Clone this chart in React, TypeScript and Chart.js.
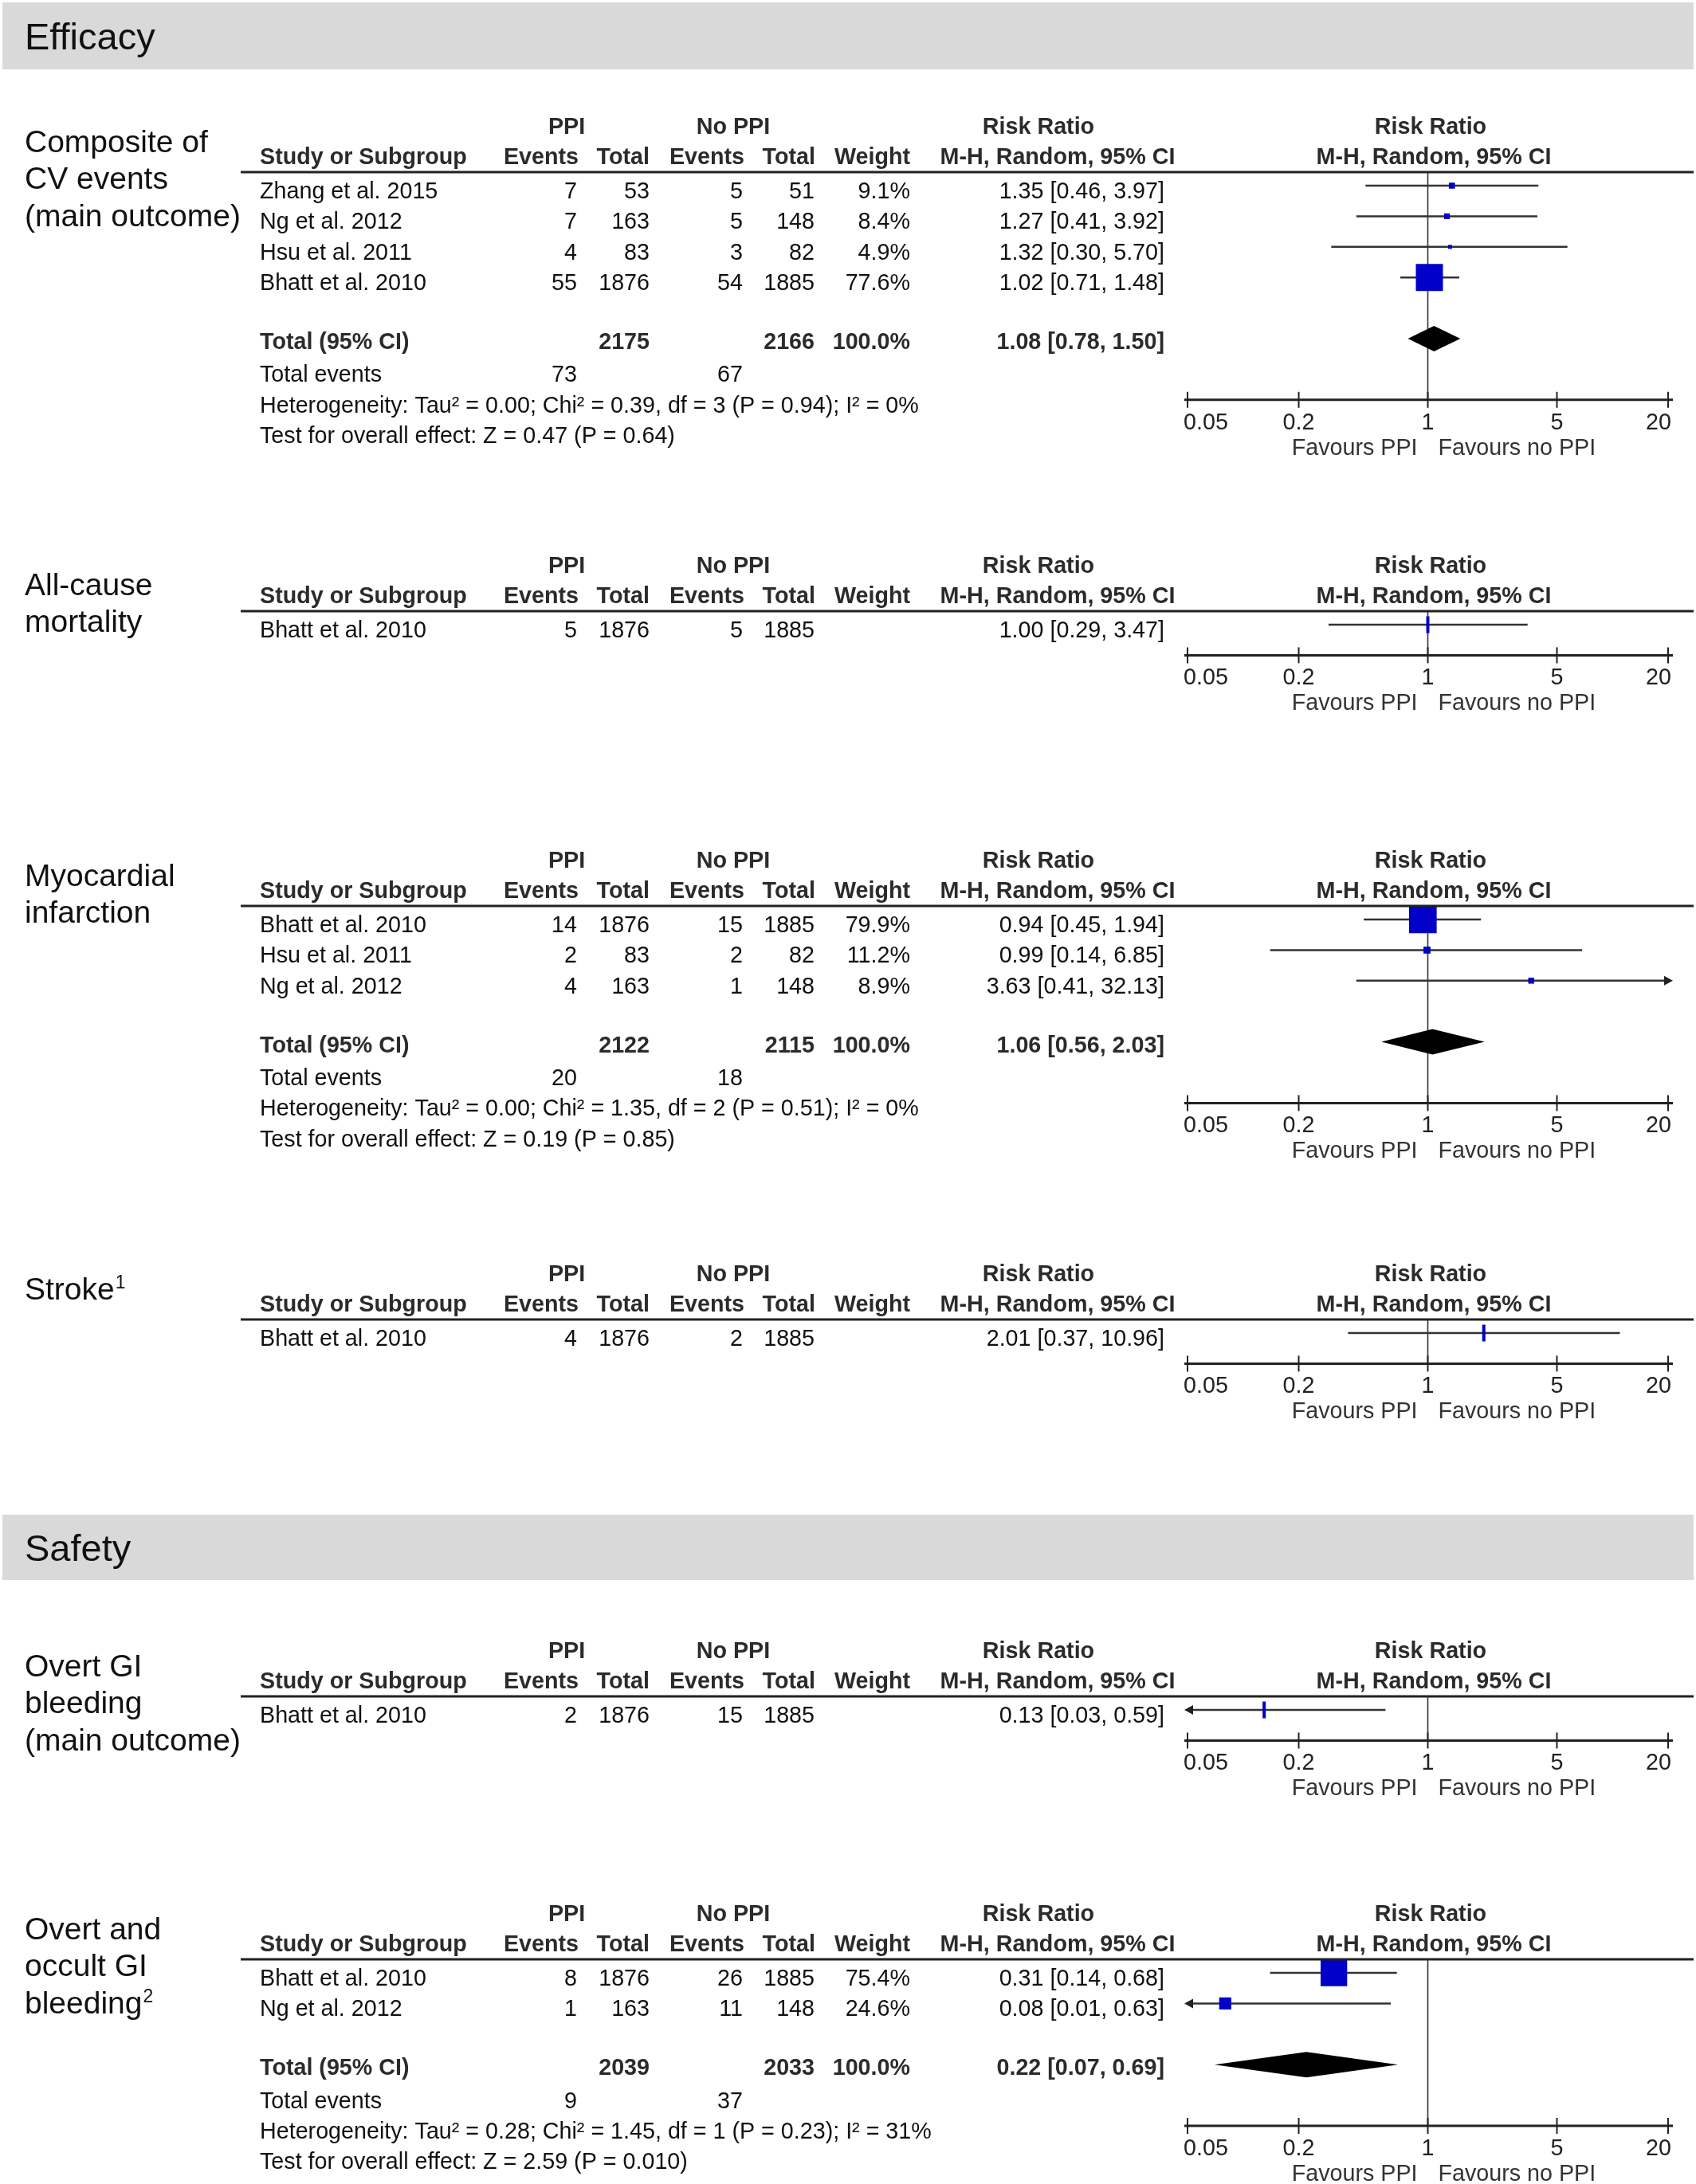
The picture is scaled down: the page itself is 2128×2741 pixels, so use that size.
import React, { useEffect, useRef } from "react";
import { Chart, registerables } from "chart.js";

Chart.register(...registerables);

const PAGE_W = 2128;
const PAGE_H = 2741;

// ---------------- data ----------------
const SECTION_TITLES = ["Efficacy", "Safety"];
const AXIS_TICKS = [0.05, 0.2, 1, 5, 20];
const AXIS_TICK_LABELS = ["0.05", "0.2", "1", "5", "20"];
const FAVOURS_LABELS = ["Favours PPI", "Favours no PPI"];
const GROUP_HEADERS = ["PPI", "No PPI", "Risk Ratio", "Risk Ratio"];
const COLUMN_HEADERS = ["Study or Subgroup", "Events", "Total", "Events", "Total", "Weight", "M-H, Random, 95% CI", "M-H, Random, 95% CI"];

// [study, PPI events, PPI total, No PPI events, No PPI total, weight %, RR, CI low, CI high]
type Study = [string, number, number, number, number, number | null, number, number, number];
// [PPI total, No PPI total, weight %, RR, CI low, CI high]
type Total = [number, number, number, number, number, number];

const compositeStudies: Study[] = [
  ["Zhang et al. 2015", 7, 53, 5, 51, 9.1, 1.35, 0.46, 3.97],
  ["Ng et al. 2012", 7, 163, 5, 148, 8.4, 1.27, 0.41, 3.92],
  ["Hsu et al. 2011", 4, 83, 3, 82, 4.9, 1.32, 0.3, 5.7],
  ["Bhatt et al. 2010", 55, 1876, 54, 1885, 77.6, 1.02, 0.71, 1.48],
];
const compositeTotal: Total = [2175, 2166, 100.0, 1.08, 0.78, 1.5];
const compositeEvents = [73, 67];
const compositeNotes = [
  "Heterogeneity: Tau² = 0.00; Chi² = 0.39, df = 3 (P = 0.94); I² = 0%",
  "Test for overall effect: Z = 0.47 (P = 0.64)",
];

const mortalityStudies: Study[] = [["Bhatt et al. 2010", 5, 1876, 5, 1885, null, 1.0, 0.29, 3.47]];

const miStudies: Study[] = [
  ["Bhatt et al. 2010", 14, 1876, 15, 1885, 79.9, 0.94, 0.45, 1.94],
  ["Hsu et al. 2011", 2, 83, 2, 82, 11.2, 0.99, 0.14, 6.85],
  ["Ng et al. 2012", 4, 163, 1, 148, 8.9, 3.63, 0.41, 32.13],
];
const miTotal: Total = [2122, 2115, 100.0, 1.06, 0.56, 2.03];
const miEvents = [20, 18];
const miNotes = [
  "Heterogeneity: Tau² = 0.00; Chi² = 1.35, df = 2 (P = 0.51); I² = 0%",
  "Test for overall effect: Z = 0.19 (P = 0.85)",
];

const strokeStudies: Study[] = [["Bhatt et al. 2010", 4, 1876, 2, 1885, null, 2.01, 0.37, 10.96]];

const overtStudies: Study[] = [["Bhatt et al. 2010", 2, 1876, 15, 1885, null, 0.13, 0.03, 0.59]];

const occultStudies: Study[] = [
  ["Bhatt et al. 2010", 8, 1876, 26, 1885, 75.4, 0.31, 0.14, 0.68],
  ["Ng et al. 2012", 1, 163, 11, 148, 24.6, 0.08, 0.01, 0.63],
];
const occultTotal: Total = [2039, 2033, 100.0, 0.22, 0.07, 0.69];
const occultEvents = [9, 37];
const occultNotes = [
  "Heterogeneity: Tau² = 0.28; Chi² = 1.45, df = 1 (P = 0.23); I² = 31%",
  "Test for overall effect: Z = 2.59 (P = 0.010)",
];

const OUTCOME_LABELS = [
  ["Composite of", "CV events", "(main outcome)"],
  ["All-cause", "mortality"],
  ["Myocardial", "infarction"],
  ["Stroke"],
  ["Overt GI", "bleeding", "(main outcome)"],
  ["Overt and", "occult GI", "bleeding"],
];
const OUTCOME_FOOTNOTES = ["", "", "", "1", "", "2"];

type Panel = {
  label: string[];
  foot: string;
  studies: Study[];
  total: Total | null;
  events: number[] | null;
  notes: string[] | null;
};

const PANELS: Panel[] = [
  { label: OUTCOME_LABELS[0], foot: OUTCOME_FOOTNOTES[0], studies: compositeStudies, total: compositeTotal, events: compositeEvents, notes: compositeNotes },
  { label: OUTCOME_LABELS[1], foot: OUTCOME_FOOTNOTES[1], studies: mortalityStudies, total: null, events: null, notes: null },
  { label: OUTCOME_LABELS[2], foot: OUTCOME_FOOTNOTES[2], studies: miStudies, total: miTotal, events: miEvents, notes: miNotes },
  { label: OUTCOME_LABELS[3], foot: OUTCOME_FOOTNOTES[3], studies: strokeStudies, total: null, events: null, notes: null },
  { label: OUTCOME_LABELS[4], foot: OUTCOME_FOOTNOTES[4], studies: overtStudies, total: null, events: null, notes: null },
  { label: OUTCOME_LABELS[5], foot: OUTCOME_FOOTNOTES[5], studies: occultStudies, total: occultTotal, events: occultEvents, notes: occultNotes },
];

// ---------------- layout / style ----------------
const X_MIN = 0.05;
const X_MAX = 20;
const PLOT_LEFT = 1490;
const PLOT_RIGHT = 2093;
const SECTION_BANDS = [
  [3, 87],
  [1901, 1983],
];
const PANEL_RULE_Y = [216, 767, 1137, 1656, 2129, 2459];
const LABEL_DY = [0, 5, 0, 0, 0, 0];
const ROW_FIRST = 17;
const ROW_PITCH = 38.4;
const DIAMOND_HALF = 16;
const COL = { study: 326, ppiE: 724, ppiT: 815, noE: 932, noT: 1022, weight: 1142, rr: 1461 };
const HEAD = { ppi: 711, noPpi: 920, rrTable: 1303, mhTable: 1327, rrPlot: 1795, mhPlot: 1799 };
const BLUE = "#0000c8";
const LINE = "#333333";
const TEXT = "#111111";
const HEADTEXT = "#2b2b2b";
const FONT = '"Liberation Sans", Arial, Helvetica, sans-serif';
const BODY_SIZE = 28.7;
const LABEL_SIZE = 39;
const TITLE_SIZE = 47;

const rowY = (pi: number, r: number) => PANEL_RULE_Y[pi] + ROW_FIRST + ROW_PITCH * r;
const axisRow = (p: Panel) => (p.total ? p.studies.length + 3 : p.studies.length);
const squareSide = (w: number) => 34 * Math.pow(w / 77.6, 0.7);
const fmt = (v: number) => v.toFixed(2);
const ciText = (rr: number, lo: number, hi: number) => `${fmt(rr)} [${fmt(lo)}, ${fmt(hi)}]`;

function buildDatasets() {
  const ds: any[] = [];
  PANELS.forEach((p, pi) => {
    const single = p.studies.length === 1;
    // study markers
    ds.push({
      type: "scatter",
      order: 0,
      clip: false,
      data: p.studies.map((s, i) => ({ x: s[6], y: rowY(pi, i) })),
      pointStyle: single ? "line" : "rect",
      pointRotation: single ? 90 : 0,
      pointRadius: p.studies.map((s) => (single ? 10.5 : squareSide(s[5] as number) / Math.SQRT2)),
      pointBackgroundColor: BLUE,
      pointBorderColor: BLUE,
      pointBorderWidth: single ? 4 : 0,
      showLine: false,
    });
    // pooled diamond
    if (p.total) {
      const [, , , rr, lo, hi] = p.total;
      const y = rowY(pi, p.studies.length + 1);
      ds.push({
        type: "line",
        order: 0,
        clip: false,
        data: [
          { x: lo, y },
          { x: rr, y: y - DIAMOND_HALF },
          { x: hi, y },
          { x: rr, y: y + DIAMOND_HALF },
          { x: lo, y },
        ],
        borderWidth: 0,
        borderColor: "#000",
        backgroundColor: "#000",
        fill: "shape",
        pointRadius: 0,
      });
    }
    // confidence intervals
    p.studies.forEach((s, i) => {
      const y = rowY(pi, i);
      ds.push({
        type: "line",
        order: 1,
        clip: false,
        data: [
          { x: Math.max(s[7], X_MIN), y },
          { x: Math.min(s[8], X_MAX), y },
        ],
        borderColor: LINE,
        borderWidth: 2.5,
        pointRadius: 0,
        fill: false,
      });
    });
    // line of no effect
    ds.push({
      type: "line",
      order: 2,
      clip: false,
      data: [
        { x: 1, y: PANEL_RULE_Y[pi] },
        { x: 1, y: rowY(pi, axisRow(p)) },
      ],
      borderColor: LINE,
      borderWidth: 1.6,
      pointRadius: 0,
      fill: false,
    });
  });
  return ds;
}

function text(ctx: CanvasRenderingContext2D, s: string, x: number, y: number, align: CanvasTextAlign, bold = false, size = BODY_SIZE, color = TEXT) {
  ctx.font = `${bold ? "bold " : ""}${size}px ${FONT}`;
  ctx.textAlign = align;
  ctx.textBaseline = "alphabetic";
  ctx.fillStyle = color;
  ctx.fillText(s, x, y);
}

const forestPlugin = {
  id: "forestDecor",
  beforeDatasetsDraw(chart: any) {
    const ctx: CanvasRenderingContext2D = chart.ctx;
    const ys = chart.scales.y;
    ctx.save();
    ctx.fillStyle = "#d9d9d9";
    SECTION_BANDS.forEach(([t, b]) => {
      const top = ys.getPixelForValue(t);
      const bot = ys.getPixelForValue(b);
      ctx.fillRect(3, top, PAGE_W - 6, bot - top);
    });
    ctx.restore();
  },
  afterDatasetsDraw(chart: any) {
    const ctx: CanvasRenderingContext2D = chart.ctx;
    const xs = chart.scales.x;
    const ys = chart.scales.y;
    const xl = xs.getPixelForValue(X_MIN);
    const xr = xs.getPixelForValue(X_MAX);
    ctx.save();
    PANELS.forEach((p, pi) => {
      // header rule
      const ry = ys.getPixelForValue(PANEL_RULE_Y[pi]);
      ctx.strokeStyle = "#222";
      ctx.lineWidth = 3;
      ctx.beginPath();
      ctx.moveTo(302, ry);
      ctx.lineTo(PAGE_W - 3, ry);
      ctx.stroke();
      // axis
      const ay = ys.getPixelForValue(rowY(pi, axisRow(p)));
      ctx.lineWidth = 3;
      ctx.beginPath();
      ctx.moveTo(xl - 4, ay);
      ctx.lineTo(xr + 6, ay);
      ctx.stroke();
      ctx.lineWidth = 2;
      AXIS_TICKS.forEach((t) => {
        const tx = xs.getPixelForValue(t);
        ctx.beginPath();
        ctx.moveTo(tx, ay - 10);
        ctx.lineTo(tx, ay + 10);
        ctx.stroke();
      });
      // arrows for CIs beyond the axis
      ctx.fillStyle = "#222";
      p.studies.forEach((s, i) => {
        const y = ys.getPixelForValue(rowY(pi, i));
        if (s[7] < X_MIN) {
          ctx.beginPath();
          ctx.moveTo(xl - 4, y);
          ctx.lineTo(xl + 7, y - 6);
          ctx.lineTo(xl + 7, y + 6);
          ctx.closePath();
          ctx.fill();
        }
        if (s[8] > X_MAX) {
          ctx.beginPath();
          ctx.moveTo(xr + 6, y);
          ctx.lineTo(xr - 5, y - 6);
          ctx.lineTo(xr - 5, y + 6);
          ctx.closePath();
          ctx.fill();
        }
      });
    });
    ctx.restore();
  },
  afterDraw(chart: any) {
    const ctx: CanvasRenderingContext2D = chart.ctx;
    const xs = chart.scales.x;
    const ys = chart.scales.y;
    ctx.save();
    // section titles
    SECTION_TITLES.forEach((t, i) => {
      const [a, b] = SECTION_BANDS[i];
      text(ctx, t, 31, ys.getPixelForValue((a + b) / 2) + 17, "left", false, TITLE_SIZE, "#111");
    });
    PANELS.forEach((p, pi) => {
      const U = ys.getPixelForValue(PANEL_RULE_Y[pi]);
      // outcome label
      p.label.forEach((line, li) => {
        const by = U - 25.5 + LABEL_DY[pi] + li * 46.5;
        text(ctx, line, 31, by, "left", false, LABEL_SIZE, "#111");
        if (li === p.label.length - 1 && p.foot) {
          ctx.font = `${LABEL_SIZE}px ${FONT}`;
          const w = ctx.measureText(line).width;
          text(ctx, p.foot, 31 + w + 1, by - 14, "left", false, 23, "#111");
        }
      });
      // headers
      const h1 = U - 48;
      const h2 = U - 10;
      text(ctx, GROUP_HEADERS[0], HEAD.ppi, h1, "center", true, BODY_SIZE, HEADTEXT);
      text(ctx, GROUP_HEADERS[1], HEAD.noPpi, h1, "center", true, BODY_SIZE, HEADTEXT);
      text(ctx, GROUP_HEADERS[2], HEAD.rrTable, h1, "center", true, BODY_SIZE, HEADTEXT);
      text(ctx, GROUP_HEADERS[3], HEAD.rrPlot, h1, "center", true, BODY_SIZE, HEADTEXT);
      text(ctx, COLUMN_HEADERS[0], COL.study, h2, "left", true, BODY_SIZE, HEADTEXT);
      text(ctx, COLUMN_HEADERS[1], COL.ppiE + 2, h2, "right", true, BODY_SIZE, HEADTEXT);
      text(ctx, COLUMN_HEADERS[2], COL.ppiT, h2, "right", true, BODY_SIZE, HEADTEXT);
      text(ctx, COLUMN_HEADERS[3], COL.noE + 2, h2, "right", true, BODY_SIZE, HEADTEXT);
      text(ctx, COLUMN_HEADERS[4], COL.noT + 1, h2, "right", true, BODY_SIZE, HEADTEXT);
      text(ctx, COLUMN_HEADERS[5], COL.weight, h2, "right", true, BODY_SIZE, HEADTEXT);
      text(ctx, COLUMN_HEADERS[6], HEAD.mhTable, h2, "center", true, BODY_SIZE, HEADTEXT);
      text(ctx, COLUMN_HEADERS[7], HEAD.mhPlot, h2, "center", true, BODY_SIZE, HEADTEXT);
      // study rows
      p.studies.forEach((s, i) => {
        const by = ys.getPixelForValue(rowY(pi, i)) + 16;
        text(ctx, s[0], COL.study, by, "left");
        text(ctx, String(s[1]), COL.ppiE, by, "right");
        text(ctx, String(s[2]), COL.ppiT, by, "right");
        text(ctx, String(s[3]), COL.noE, by, "right");
        text(ctx, String(s[4]), COL.noT, by, "right");
        if (s[5] !== null) text(ctx, `${(s[5] as number).toFixed(1)}%`, COL.weight, by, "right");
        text(ctx, ciText(s[6], s[7], s[8]), COL.rr, by, "right");
      });
      // totals
      if (p.total && p.events && p.notes) {
        const n = p.studies.length;
        const ty = ys.getPixelForValue(rowY(pi, n + 1)) + 13;
        text(ctx, "Total (95% CI)", COL.study, ty, "left", true, BODY_SIZE, HEADTEXT);
        text(ctx, String(p.total[0]), COL.ppiT, ty, "right", true, BODY_SIZE, HEADTEXT);
        text(ctx, String(p.total[1]), COL.noT, ty, "right", true, BODY_SIZE, HEADTEXT);
        text(ctx, `${p.total[2].toFixed(1)}%`, COL.weight, ty, "right", true, BODY_SIZE, HEADTEXT);
        text(ctx, ciText(p.total[3], p.total[4], p.total[5]), COL.rr, ty, "right", true, BODY_SIZE, HEADTEXT);
        const ey = ys.getPixelForValue(rowY(pi, n + 2)) + 16;
        text(ctx, "Total events", COL.study, ey, "left");
        text(ctx, String(p.events[0]), COL.ppiE, ey, "right");
        text(ctx, String(p.events[1]), COL.noE, ey, "right");
        text(ctx, p.notes[0], COL.study, ys.getPixelForValue(rowY(pi, n + 3)) + 16, "left");
        text(ctx, p.notes[1], COL.study, ys.getPixelForValue(rowY(pi, n + 4)) + 16, "left");
      }
      // axis labels
      const ay = ys.getPixelForValue(rowY(pi, axisRow(p)));
      AXIS_TICKS.forEach((t, ti) => {
        const tx = xs.getPixelForValue(t);
        const align: CanvasTextAlign = ti === 0 ? "left" : ti === AXIS_TICKS.length - 1 ? "right" : "center";
        const dx = ti === 0 ? -5 : ti === AXIS_TICKS.length - 1 ? 4 : 0;
        text(ctx, AXIS_TICK_LABELS[ti], tx + dx, ay + 37, align, false, BODY_SIZE, "#222");
      });
      const one = xs.getPixelForValue(1);
      text(ctx, FAVOURS_LABELS[0], one - 13, ay + 69, "right", false, BODY_SIZE, "#333");
      text(ctx, FAVOURS_LABELS[1], one + 13, ay + 69, "left", false, BODY_SIZE, "#333");
    });
    ctx.restore();
  },
};

export default function App() {
  const ref = useRef<HTMLCanvasElement>(null);
  useEffect(() => {
    document.body.style.margin = "0";
    const canvas = ref.current;
    if (!canvas) return;
    const chart = new Chart(canvas, {
      type: "scatter",
      data: { datasets: buildDatasets() },
      options: {
        animation: false,
        responsive: true,
        maintainAspectRatio: false,
        events: [],
        layout: { autoPadding: false, padding: { left: PLOT_LEFT, right: PAGE_W - PLOT_RIGHT, top: 0, bottom: 0 } },
        scales: {
          x: { type: "logarithmic", min: X_MIN, max: X_MAX, display: false, bounds: "data" },
          y: { type: "linear", min: 0, max: PAGE_H, reverse: true, display: false, bounds: "data" },
        },
        plugins: { legend: { display: false }, tooltip: { enabled: false }, title: { display: false } },
      } as any,
      plugins: [forestPlugin as any],
    });
    return () => chart.destroy();
  }, []);
  return (
    <div style={{ position: "relative", width: PAGE_W, height: PAGE_H, background: "#fff" }}>
      <canvas ref={ref} />
    </div>
  );
}
